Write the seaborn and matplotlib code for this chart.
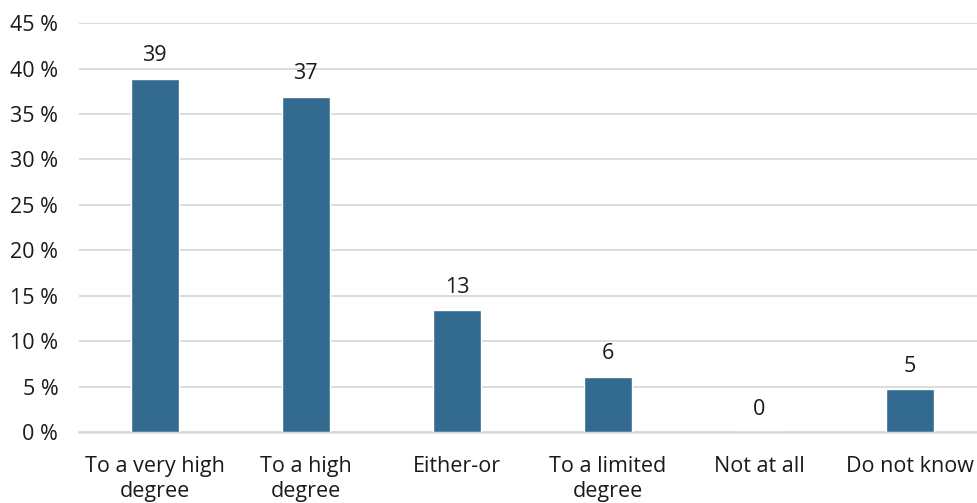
import numpy as np
import pandas as pd
import seaborn as sns
import matplotlib.pyplot as plt
from matplotlib.ticker import FuncFormatter

categories = ["To a very high\ndegree", "To a high\ndegree", "Either-or",
              "To a limited\ndegree", "Not at all", "Do not know"]
values = [38.9, 36.9, 13.4, 6.1, 0.0, 4.7]
labels = ["39", "37", "13", "6", "0", "5"]

sns.set_theme(style="white")
plt.rcParams['font.family'] = ['Open Sans', 'DejaVu Sans']

df = pd.DataFrame({"category": categories, "value": values})

fig = plt.figure(figsize=(9.77, 5.03), dpi=100)
ax = fig.add_axes([0.081, 0.141, 0.928, 0.813])

sns.barplot(data=df, x="category", y="value", color="#336A90", width=0.32,
            saturation=1, ax=ax, zorder=3)

ax.set_ylim(0, 45)
ax.set_yticks(np.arange(0, 46, 5))
ax.yaxis.set_major_formatter(FuncFormatter(lambda v, p: f"{int(v)} %"))
ax.grid(axis="y", color="#d9d9d9", linewidth=1.3, zorder=0)
ax.set_xlabel("")
ax.set_ylabel("")
for s in ["top", "right", "left"]:
    ax.spines[s].set_visible(False)
ax.spines["bottom"].set_color("#d9d9d9")
ax.spines["bottom"].set_linewidth(1.8)
ax.tick_params(axis="both", length=0, labelsize=15.5, colors="#1a1a1a")
ax.tick_params(axis="y", pad=15)
for t in ax.get_xticklabels():
    t.set_linespacing(1.3)
ax.tick_params(axis="x", pad=17)

for i, (v, lab) in enumerate(zip(values, labels)):
    ax.annotate(lab, (i, v), xytext=(0, 9), textcoords="offset points",
                ha="center", va="bottom", fontsize=15.5, color="#1a1a1a")

fig.savefig("out.png", dpi=100)
